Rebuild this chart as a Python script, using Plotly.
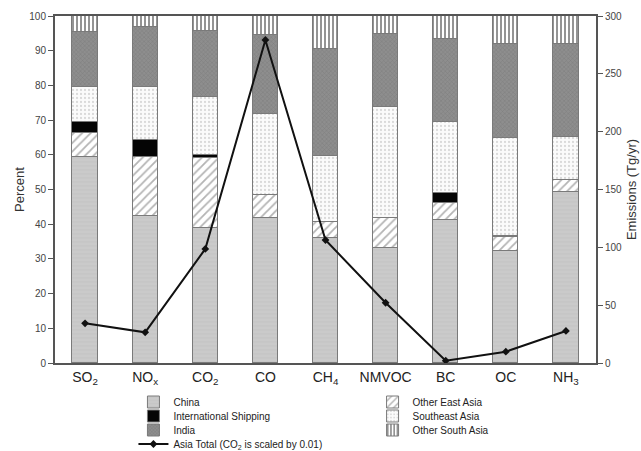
import plotly.graph_objects as go

# Species on the x axis (HTML subscripts for chemical formulas)
species = ["SO<sub>2</sub>", "NO<sub>x</sub>", "CO<sub>2</sub>", "CO", "CH<sub>4</sub>",
           "NMVOC", "BC", "OC", "NH<sub>3</sub>"]

# Regional share of Asian emissions (percent), stacked bottom to top
china = [59.5, 42.4, 38.8, 41.7, 35.9, 33.2, 41.2, 32.4, 49.4]
other_east_asia = [6.9, 17.1, 20.2, 6.7, 4.8, 8.7, 5.0, 3.8, 3.3]
intl_shipping = [3.1, 4.8, 0.9, 0.0, 0.0, 0.0, 2.7, 0.4, 0.0]
southeast_asia = [10.0, 15.1, 16.8, 23.4, 19.0, 32.0, 20.6, 28.3, 12.5]
india = [16.0, 17.5, 19.0, 22.7, 30.7, 20.9, 23.8, 26.9, 26.6]
other_south_asia = [4.5, 3.1, 4.3, 5.5, 9.6, 5.2, 6.7, 8.2, 8.2]

# Asia total emissions in Tg/yr (CO2 scaled by 0.01)
asia_total = [34.3, 26.5, 98.6, 279.3, 106.3, 52.1, 2.0, 9.8, 27.7]

x = list(range(len(species)))

fig = go.Figure()

bar_outline = dict(color="#7a7a7a", width=1)
bar_width = 0.42

def add_bar(name, values, fill, pattern, legend):
    fig.add_trace(go.Bar(
        x=x, y=values, name=name, width=bar_width,
        marker=dict(color=fill, line=bar_outline, pattern=pattern),
        legend=legend,
    ))

add_bar("China", china, "#cacaca",
        dict(shape="-", fgcolor="#bdbdbd", size=4, solidity=0.25), "legend")
add_bar("Other East Asia", other_east_asia, "#ffffff",
        dict(shape="/", fgcolor="#6a6a6a", size=6, solidity=0.3), "legend5")
add_bar("International Shipping", intl_shipping, "#050505", None, "legend2")
add_bar("Southeast Asia", southeast_asia, "#fbfbfb",
        dict(shape=".", fgcolor="#b8b8b8", size=4, solidity=0.25), "legend6")
add_bar("India", india, "#8e8e8e",
        dict(shape="x", fgcolor="#6e6e6e", size=3, solidity=0.35), "legend3")
add_bar("Other South Asia", other_south_asia, "#ffffff",
        dict(shape="|", fgcolor="#111111", size=4, solidity=0.45), "legend7")

fig.add_trace(go.Scatter(
    x=x, y=asia_total, yaxis="y2", mode="lines+markers",
    name="Asia Total (CO<sub>2</sub> is scaled by 0.01)",
    line=dict(color="#111111", width=2),
    marker=dict(symbol="diamond", size=6, color="#111111"),
    legend="legend4",
))

axis_color = "#555555"
font = "Liberation Sans, Arial, sans-serif"

# Legend entries laid out as two columns with compact rows
legend_font = dict(size=10, color="#222222")
row_y = [-0.1124, -0.1527, -0.1931, -0.2334]
left_x, right_x = 0.145, 0.587

def legend_box(xpos, ypos):
    return dict(x=xpos, y=ypos, xanchor="left", yanchor="middle",
                orientation="v", font=legend_font, bgcolor="rgba(0,0,0,0)",
                itemwidth=30, borderwidth=0)

fig.update_layout(
    width=641, height=451,
    margin=dict(l=55, r=45, t=16, b=88, autoexpand=False),
    paper_bgcolor="white", plot_bgcolor="white",
    barmode="stack", bargap=0,
    font=dict(family=font, color="#333333", size=11),
    showlegend=True,
    xaxis=dict(
        range=[-0.5, 8.5], tickmode="array", tickvals=x, ticktext=species,
        showgrid=False, zeroline=False, showline=True, linecolor=axis_color,
        linewidth=2, mirror=True, ticks="", tickfont=dict(size=14, color="#222222"),
    ),
    yaxis=dict(
        range=[0, 100], tickvals=list(range(0, 101, 10)),
        showgrid=False, zeroline=False, showline=True, linecolor=axis_color,
        linewidth=2, ticks="outside", ticklen=5, tickcolor=axis_color,
        tickfont=dict(size=10, color="#444444"),
        title=dict(text="Percent", font=dict(size=13, color="#333333"), standoff=2),
    ),
    yaxis2=dict(
        range=[0, 300], tickvals=list(range(0, 301, 50)), overlaying="y",
        side="right", showgrid=False, zeroline=False, showline=True,
        linecolor=axis_color, linewidth=2, ticks="outside", ticklen=5,
        tickcolor=axis_color, tickfont=dict(size=10, color="#444444"),
        title=dict(text="Emissions (Tg/yr)", font=dict(size=13, color="#333333"),
                   standoff=6),
    ),
    legend=legend_box(left_x, row_y[0]),
    legend2=legend_box(left_x, row_y[1]),
    legend3=legend_box(left_x, row_y[2]),
    legend4=legend_box(left_x, row_y[3]),
    legend5=legend_box(right_x, row_y[0]),
    legend6=legend_box(right_x, row_y[1]),
    legend7=legend_box(right_x, row_y[2]),
)

fig.write_html("out.html")
